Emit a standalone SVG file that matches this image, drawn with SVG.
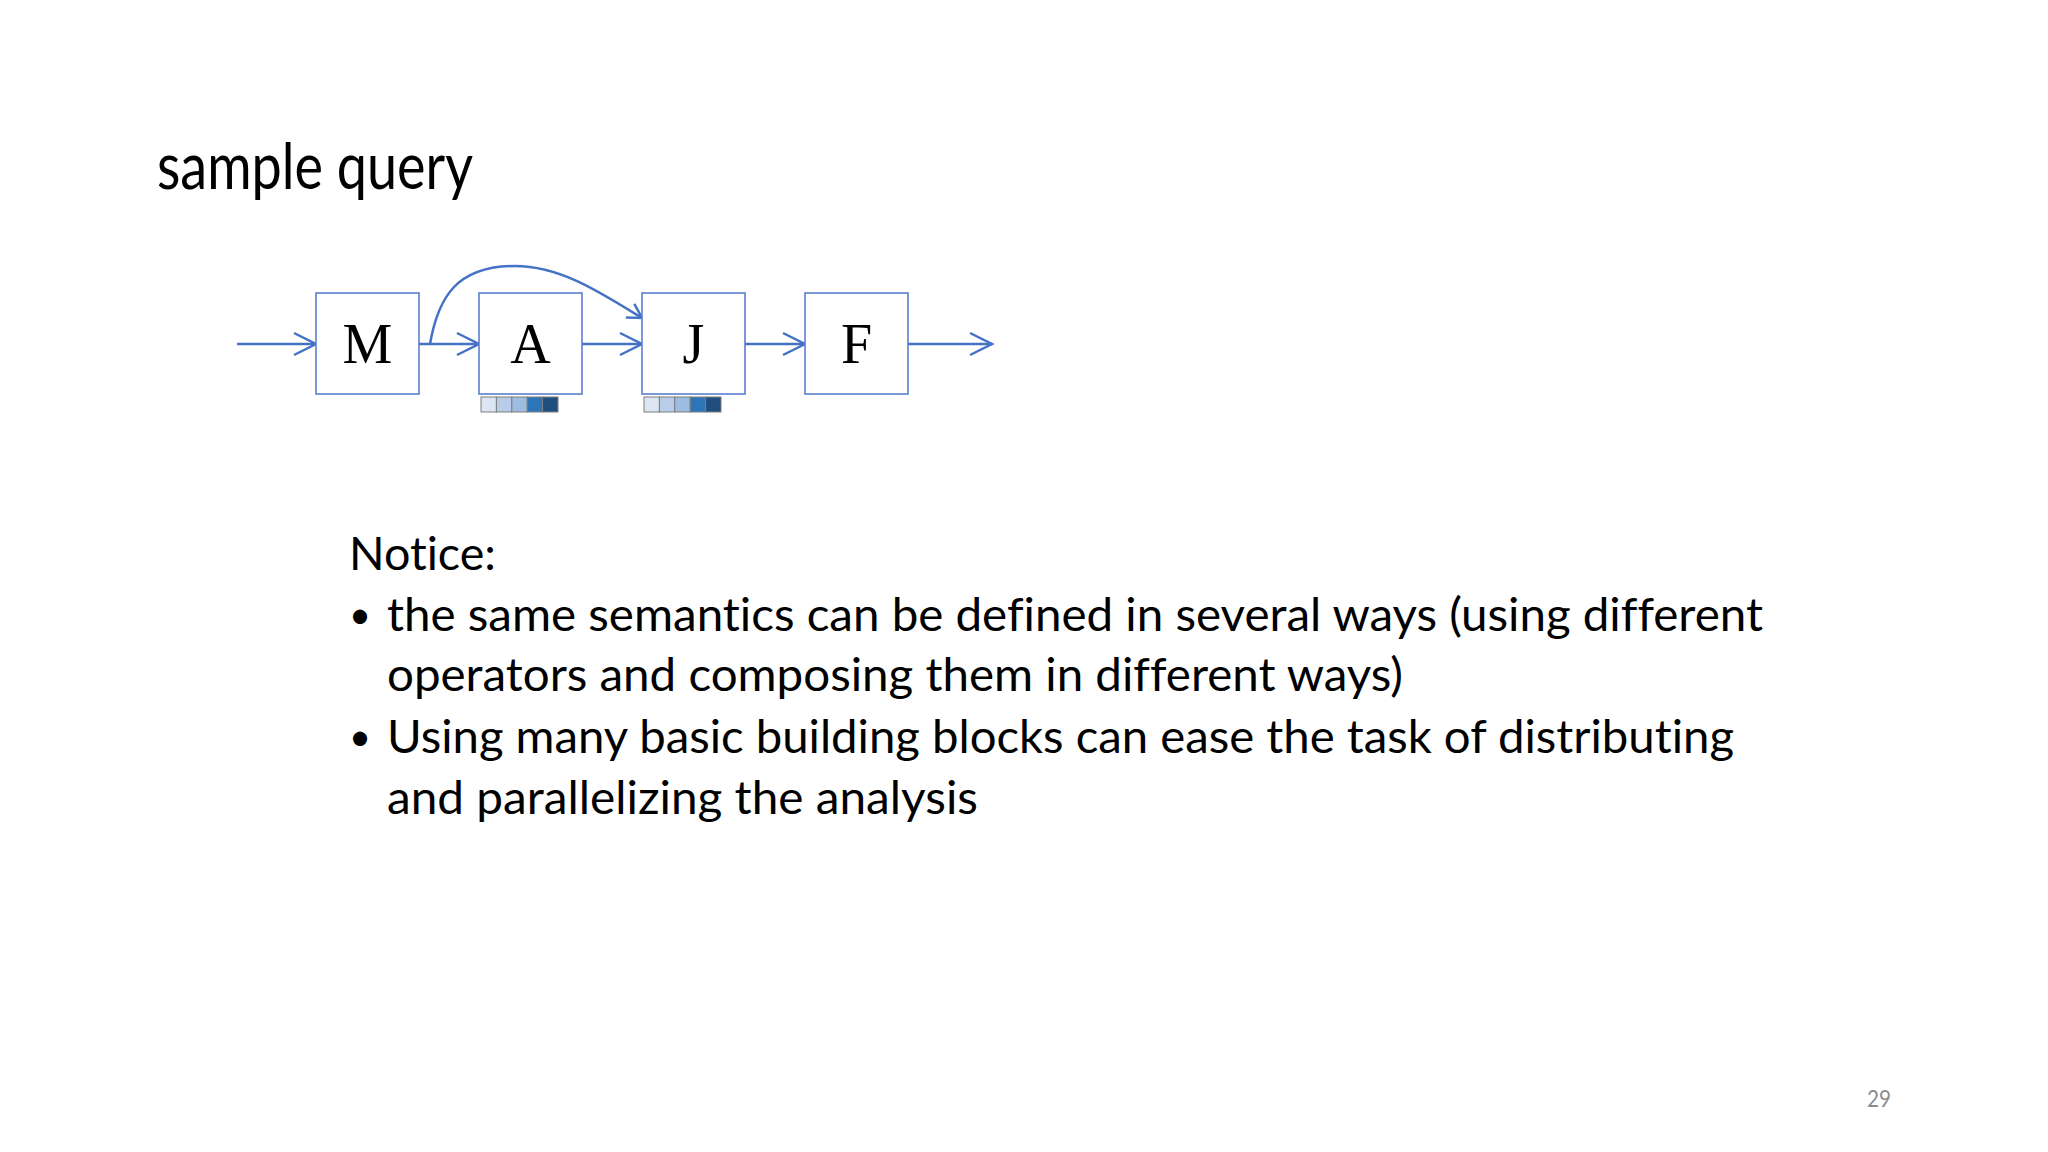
<svg xmlns="http://www.w3.org/2000/svg" width="2048" height="1152" viewBox="0 0 2048 1152">
<style>
.box{fill:#ffffff;stroke:#5b7fcf;stroke-width:1.6}
.lbl{font-family:"Liberation Serif","Times New Roman",serif;font-size:56px;fill:#000;text-anchor:middle}
.conn{fill:none;stroke:#4472c4;stroke-width:2.5}
.txt{font-family:Lato,"Liberation Sans",sans-serif;font-variant-ligatures:none;font-feature-settings:"liga" 0,"clig" 0}
.blk{fill:#000}
.pg{fill:#8a8a8a}
.cell{stroke:#7f7f7f;stroke-width:1}
</style>
<defs>
<marker id="arr" markerUnits="userSpaceOnUse" markerWidth="30" markerHeight="30" viewBox="0 0 30 30" refX="24" refY="15" orient="auto" overflow="visible">
<path d="M2,4 L24,15 L2,26" fill="none" stroke="#4472c4" stroke-width="2.5"/>
</marker>
<marker id="arrs" markerUnits="userSpaceOnUse" markerWidth="24" markerHeight="24" viewBox="0 0 24 24" refX="18" refY="12" orient="auto" overflow="visible">
<path d="M4,4 L18,12 L4,20" fill="none" stroke="#4472c4" stroke-width="2.5"/>
</marker>
</defs>
<rect x="0" y="0" width="2048" height="1152" fill="#ffffff"/>
<text class="txt blk" x="157" y="189" font-size="63" textLength="316" lengthAdjust="spacingAndGlyphs">sample query</text>
<g id="connectors">
<line class="conn" x1="237" y1="344" x2="316" y2="344" marker-end="url(#arr)"/>
<line class="conn" x1="419" y1="344" x2="479" y2="344" marker-end="url(#arr)"/>
<line class="conn" x1="582" y1="344" x2="642" y2="344" marker-end="url(#arr)"/>
<line class="conn" x1="745" y1="344" x2="805" y2="344" marker-end="url(#arr)"/>
<line class="conn" x1="908" y1="344" x2="992" y2="344" marker-end="url(#arr)"/>
<path class="conn" d="M430,344 C438,298 456,266 515,266 C560,266 600,292 642,318" marker-end="url(#arrs)"/>
</g>
<g id="node-M">
<rect class="box" x="316" y="293" width="103" height="101"/>
<text class="lbl" x="367.5" y="363">M</text>
</g>
<g id="node-A">
<rect class="box" x="479" y="293" width="103" height="101"/>
<text class="lbl" x="530.5" y="363">A</text>
<rect class="cell" x="481" y="397" width="15.4" height="15" fill="#dce6f2"/>
<rect class="cell" x="496.4" y="397" width="15.4" height="15" fill="#b9cde8"/>
<rect class="cell" x="511.8" y="397" width="15.4" height="15" fill="#9dbde2"/>
<rect class="cell" x="527.2" y="397" width="15.4" height="15" fill="#2e74b8"/>
<rect class="cell" x="542.6" y="397" width="15.4" height="15" fill="#1f4e7f"/>
</g>
<g id="node-J">
<rect class="box" x="642" y="293" width="103" height="101"/>
<text class="lbl" x="693.5" y="363">J</text>
<rect class="cell" x="644" y="397" width="15.4" height="15" fill="#dce6f2"/>
<rect class="cell" x="659.4" y="397" width="15.4" height="15" fill="#b9cde8"/>
<rect class="cell" x="674.8" y="397" width="15.4" height="15" fill="#9dbde2"/>
<rect class="cell" x="690.2" y="397" width="15.4" height="15" fill="#2e74b8"/>
<rect class="cell" x="705.6" y="397" width="15.4" height="15" fill="#1f4e7f"/>
</g>
<g id="node-F">
<rect class="box" x="805" y="293" width="103" height="101"/>
<text class="lbl" x="856.5" y="363">F</text>
</g>
<g id="notes" class="txt blk" font-size="46">
<text x="349" y="570" textLength="147" lengthAdjust="spacingAndGlyphs">Notice:</text>
<text x="349" y="628" font-size="38">•</text>
<text x="387" y="631" textLength="1376" lengthAdjust="spacingAndGlyphs">the same semantics can be defined in several ways (using different</text>
<text x="387" y="691" textLength="1016" lengthAdjust="spacingAndGlyphs">operators and composing them in different ways)</text>
<text x="349" y="750" font-size="38">•</text>
<text x="387" y="753" textLength="1347" lengthAdjust="spacingAndGlyphs">Using many basic building blocks can ease the task of distributing</text>
<text x="387" y="814" textLength="591" lengthAdjust="spacingAndGlyphs">and parallelizing the analysis</text>
</g>
<text class="txt pg" x="1867" y="1107" font-size="24" textLength="24" lengthAdjust="spacingAndGlyphs">29</text>
</svg>
